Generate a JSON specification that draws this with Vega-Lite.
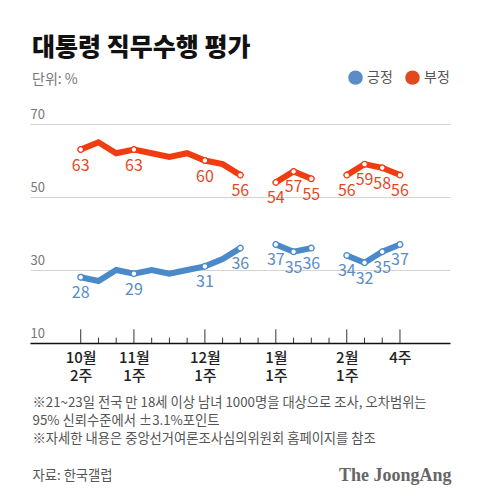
{
  "$schema": "https://vega.github.io/schema/vega-lite/v6.json",
  "width": 420,
  "height": 219,
  "autosize": {"type": "none"},
  "padding": {"left": 30, "top": 124, "right": 30, "bottom": 159},
  "background": "white",
  "config": {
    "view": {"stroke": null},
    "font": "Noto Sans CJK KR"
  },
  "title": {
    "text": "대통령 직무수행 평가",
    "subtitle": "단위: %",
    "anchor": "start",
    "frame": "group",
    "font": "Noto Sans CJK KR",
    "fontSize": 25,
    "fontWeight": 900,
    "color": "#111111",
    "subtitleFont": "Noto Sans CJK KR",
    "subtitleFontSize": 14,
    "subtitleColor": "#777777",
    "subtitlePadding": 12,
    "offset": -17,
    "dx": 2
  },
  "datasets": {
    "obs": [
      {"week": 0, "series": "부정", "value": 63, "seg": "a", "label": true},
      {"week": 1, "series": "부정", "value": 65, "seg": "a", "label": false},
      {"week": 2, "series": "부정", "value": 62, "seg": "a", "label": false},
      {"week": 3, "series": "부정", "value": 63, "seg": "a", "label": true},
      {"week": 4, "series": "부정", "value": 62, "seg": "a", "label": false},
      {"week": 5, "series": "부정", "value": 61, "seg": "a", "label": false},
      {"week": 6, "series": "부정", "value": 62, "seg": "a", "label": false},
      {"week": 7, "series": "부정", "value": 60, "seg": "a", "label": true},
      {"week": 8, "series": "부정", "value": 59, "seg": "a", "label": false},
      {"week": 9, "series": "부정", "value": 56, "seg": "a", "label": true},
      {"week": 11, "series": "부정", "value": 54, "seg": "b", "label": true},
      {"week": 12, "series": "부정", "value": 57, "seg": "b", "label": true},
      {"week": 13, "series": "부정", "value": 55, "seg": "b", "label": true},
      {"week": 15, "series": "부정", "value": 56, "seg": "c", "label": true},
      {"week": 16, "series": "부정", "value": 59, "seg": "c", "label": true},
      {"week": 17, "series": "부정", "value": 58, "seg": "c", "label": true},
      {"week": 18, "series": "부정", "value": 56, "seg": "c", "label": true},
      {"week": 0, "series": "긍정", "value": 28, "seg": "a", "label": true},
      {"week": 1, "series": "긍정", "value": 27, "seg": "a", "label": false},
      {"week": 2, "series": "긍정", "value": 30, "seg": "a", "label": false},
      {"week": 3, "series": "긍정", "value": 29, "seg": "a", "label": true},
      {"week": 4, "series": "긍정", "value": 30, "seg": "a", "label": false},
      {"week": 5, "series": "긍정", "value": 29, "seg": "a", "label": false},
      {"week": 6, "series": "긍정", "value": 30, "seg": "a", "label": false},
      {"week": 7, "series": "긍정", "value": 31, "seg": "a", "label": true},
      {"week": 8, "series": "긍정", "value": 33, "seg": "a", "label": false},
      {"week": 9, "series": "긍정", "value": 36, "seg": "a", "label": true},
      {"week": 11, "series": "긍정", "value": 37, "seg": "b", "label": true},
      {"week": 12, "series": "긍정", "value": 35, "seg": "b", "label": true},
      {"week": 13, "series": "긍정", "value": 36, "seg": "b", "label": true},
      {"week": 15, "series": "긍정", "value": 34, "seg": "c", "label": true},
      {"week": 16, "series": "긍정", "value": 32, "seg": "c", "label": true},
      {"week": 17, "series": "긍정", "value": 35, "seg": "c", "label": true},
      {"week": 18, "series": "긍정", "value": 37, "seg": "c", "label": true}
    ],
    "ticks": [
      {"week": 0, "kind": "major"}, {"week": 1, "kind": "minor"}, {"week": 2, "kind": "minor"},
      {"week": 3, "kind": "major"}, {"week": 4, "kind": "minor"}, {"week": 5, "kind": "minor"},
      {"week": 6, "kind": "minor"}, {"week": 7, "kind": "major"}, {"week": 8, "kind": "minor"},
      {"week": 9, "kind": "minor"}, {"week": 10, "kind": "minor"}, {"week": 11, "kind": "major"},
      {"week": 12, "kind": "minor"}, {"week": 13, "kind": "minor"}, {"week": 14, "kind": "minor"},
      {"week": 15, "kind": "major"}, {"week": 16, "kind": "minor"}, {"week": 17, "kind": "minor"},
      {"week": 18, "kind": "major"}
    ]
  },
  "resolve": {"axis": {"y": "independent"}},
  "layer": [
    {
      "data": {"name": "obs"},
      "mark": {"type": "line", "strokeWidth": 6, "strokeJoin": "miter", "strokeCap": "round"},
      "encoding": {
        "x": {
          "field": "week",
          "type": "quantitative",
          "scale": {"domain": [-2.86, 20.82], "nice": false, "zero": false},
          "axis": {
            "values": [0, 3, 7, 11, 15, 18],
            "labelExpr": "datum.value == 0 ? ['10월','2주'] : datum.value == 3 ? ['11월','1주'] : datum.value == 7 ? ['12월','1주'] : datum.value == 11 ? ['1월','1주'] : datum.value == 15 ? ['2월','1주'] : ['4주']",
            "ticks": false,
            "grid": false,
            "domain": true,
            "domainColor": "#111111",
            "domainWidth": 1.5,
            "labelPadding": 7,
            "labelBaseline": "top",
            "labelLineHeight": 18,
            "labelFontSize": 15,
            "labelFontWeight": 500,
            "labelColor": "#222222",
            "labelFont": "Noto Sans CJK KR",
            "title": [
              "※21~23일 전국 만 18세 이상 남녀 1000명을 대상으로 조사, 오차범위는",
              "95% 신뢰수준에서 ±3.1%포인트",
              "※자세한 내용은 중앙선거여론조사심의위원회 홈페이지를 참조",
              "\u200b",
              "자료: 한국갤럽"
            ],
            "titleFont": "Noto Sans CJK KR",
            "titleFontSize": 13.3,
            "titleFontWeight": "normal",
            "titleColor": "#555555",
            "titleAnchor": "start",
            "titleAlign": "left",
            "titleBaseline": "top",
            "titleLineHeight": 18.4,
            "titleX": 2,
            "titleY": 52
          }
        },
        "y": {
          "field": "value",
          "type": "quantitative",
          "scale": {"domain": [10, 70], "nice": false, "zero": false},
          "axis": {
            "values": [10, 30, 50, 70],
            "grid": true,
            "gridColor": "#d4d4d4",
            "gridWidth": 1,
            "domain": false,
            "ticks": false,
            "tickSize": 0,
            "labelAlign": "left",
            "labelBaseline": "alphabetic",
            "labelPadding": 0,
            "labelOffset": -6,
            "labelFontSize": 13,
            "labelColor": "#777777",
            "labelFont": "Noto Sans CJK KR",
            "title": null
          }
        },
        "color": {
          "field": "series",
          "type": "nominal",
          "scale": {"domain": ["긍정", "부정"], "range": ["#4a8ac9", "#f03c10"]},
          "legend": {
            "orient": "none",
            "legendX": 318,
            "legendY": -54,
            "direction": "horizontal",
            "title": null,
            "symbolType": "circle",
            "symbolSize": 210,
            "symbolStrokeWidth": 0,
            "labelFontSize": 14,
            "labelColor": "#555555",
            "labelFont": "Noto Sans CJK KR",
            "labelOffset": 4,
            "columnPadding": 12,
            "encode": {
              "symbols": {
                "update": {
                  "fill": {"scale": "color", "field": "value"},
                  "stroke": {"value": "transparent"},
                  "opacity": {"value": 1}
                }
              }
            }
          }
        },
        "detail": {"field": "seg", "type": "nominal"}
      }
    },
    {
      "data": {"name": "obs"},
      "transform": [{"filter": "datum.label"}],
      "mark": {"type": "point", "shape": "circle", "filled": true, "fill": "white", "strokeWidth": 1.3, "size": 32, "opacity": 1},
      "encoding": {
        "x": {"field": "week", "type": "quantitative"},
        "y": {"field": "value", "type": "quantitative", "axis": null},
        "stroke": {
          "field": "series",
          "type": "nominal",
          "scale": {"domain": ["긍정", "부정"], "range": ["#4a8ac9", "#f03c10"]},
          "legend": null
        }
      }
    },
    {
      "data": {"name": "obs"},
      "transform": [{"filter": "datum.label"}],
      "mark": {"type": "text", "dy": 16, "baseline": "middle", "align": "center", "fontSize": 16, "font": "Noto Sans CJK KR"},
      "encoding": {
        "x": {"field": "week", "type": "quantitative"},
        "y": {"field": "value", "type": "quantitative", "axis": null},
        "text": {"field": "value", "type": "quantitative"},
        "fill": {
          "field": "series",
          "type": "nominal",
          "scale": {"domain": ["긍정", "부정"], "range": ["#5a8cc6", "#e2491f"]},
          "legend": null
        }
      }
    },
    {
      "data": {"name": "ticks"},
      "transform": [{"filter": "datum.kind == 'major'"}],
      "mark": {"type": "rule", "color": "#333333", "strokeWidth": 1},
      "encoding": {
        "x": {"field": "week", "type": "quantitative"},
        "y": {"datum": 10, "axis": null},
        "y2": {"datum": 13.75}
      }
    },
    {
      "data": {"name": "ticks"},
      "transform": [{"filter": "datum.kind == 'minor'"}],
      "mark": {"type": "rule", "color": "#333333", "strokeWidth": 1},
      "encoding": {
        "x": {"field": "week", "type": "quantitative"},
        "y": {
          "datum": 10,
          "axis": {
            "orient": "right",
            "labels": false,
            "ticks": false,
            "domain": false,
            "grid": false,
            "title": "The JoongAng",
            "titleAngle": 0,
            "titleFont": "Liberation Serif",
            "titleFontSize": 18,
            "titleFontWeight": "bold",
            "titleColor": "#666666",
            "titleAlign": "right",
            "titleBaseline": "middle",
            "titleX": 1,
            "titleY": 351
          }
        },
        "y2": {"datum": 11.45}
      }
    }
  ]
}
